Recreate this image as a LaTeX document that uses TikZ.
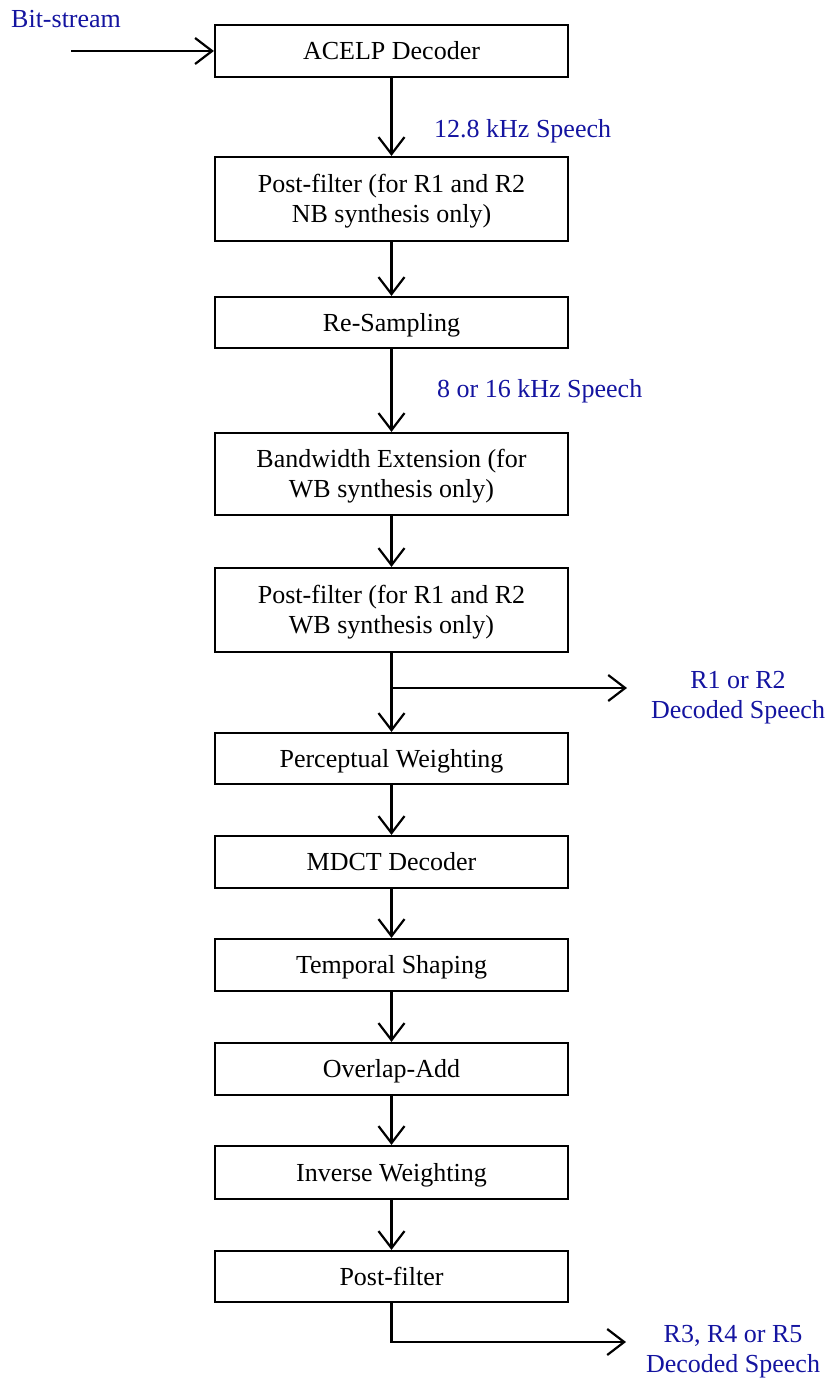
\documentclass[tikz,border=0pt]{standalone}
\usepackage{fontspec}
\setmainfont{Liberation Serif}
\usetikzlibrary{arrows.meta}
\definecolor{lblue}{RGB}{20,20,160}
\begin{document}
\begin{tikzpicture}[x=1pt,y=-1pt,
  box/.style={draw, line width=2.2pt, minimum width=353pt, inner sep=0pt, align=center,
    font=\fontsize{26}{30}\selectfont},
  onel/.style={box, text height=17pt, text depth=0pt},
  twol/.style={box, text height=47pt, text depth=0pt},
  arr/.style={line width=2.2pt, -{Straight Barb[length=17pt,width=26pt,line width=2.2pt]}},
  lbl/.style={text=lblue, inner sep=0pt, font=\fontsize{26}{30}\selectfont}]
\useasboundingbox (0,0) rectangle (831,1378);
\node[onel, minimum height=52pt] (b1) at (391.5,51) {ACELP Decoder};
\node[twol, minimum height=84pt] (b2) at (391.5,199) {Post-filter (for R1 and R2\\NB synthesis only)};
\node[onel, minimum height=51pt] (b3) at (391.5,322.5) {Re-Sampling};
\node[twol, minimum height=82pt] (b4) at (391.5,474) {Bandwidth Extension (for\\WB synthesis only)};
\node[twol, minimum height=84pt] (b5) at (391.5,610) {Post-filter (for R1 and R2\\WB synthesis only)};
\node[onel, minimum height=51pt] (b6) at (391.5,758.5) {Perceptual Weighting};
\node[onel, minimum height=52pt] (b7) at (391.5,862) {MDCT Decoder};
\node[onel, minimum height=52pt] (b8) at (391.5,965) {Temporal Shaping};
\node[onel, minimum height=52pt] (b9) at (391.5,1069) {Overlap-Add};
\node[onel, minimum height=53pt] (b10) at (391.5,1172.5) {Inverse Weighting};
\node[onel, minimum height=51pt] (b11) at (391.5,1276.5) {Post-filter};
% labels
\node[lbl, anchor=base west] (lbs) at (11,28) {Bit-stream};
\node[lbl, anchor=base west] (l128) at (434,138) {12.8 kHz Speech};
\node[lbl, anchor=base west] (l816) at (437,397) {8 or 16 kHz Speech};
\node[lbl, anchor=base] (lr12a) at (738,688) {R1 or R2};
\node[lbl, anchor=base] (lr12b) at (738,718) {Decoded Speech};
\node[lbl, anchor=base] (lr35a) at (733,1342) {R3, R4 or R5};
\node[lbl, anchor=base] (lr35b) at (733,1372) {Decoded Speech};
% connectors
\coordinate (in) at (71,51);
\draw[arr] (in) -- (b1.west);
\draw[arr] (b1) -- (b2);
\draw[arr] (b2) -- (b3);
\draw[arr] (b3) -- (b4);
\draw[arr] (b4) -- (b5);
\draw[arr] (b5) -- (b6);
\coordinate (j1) at (391.5,688);
\coordinate (o1) at (627,688);
\draw[arr] (j1) -- (o1);
\draw[arr] (b6) -- (b7);
\draw[arr] (b7) -- (b8);
\draw[arr] (b8) -- (b9);
\draw[arr] (b9) -- (b10);
\draw[arr] (b10) -- (b11);
\coordinate (o2) at (626,1342);
\draw[arr] (b11.south) |- (o2);
\end{tikzpicture}
\end{document}
